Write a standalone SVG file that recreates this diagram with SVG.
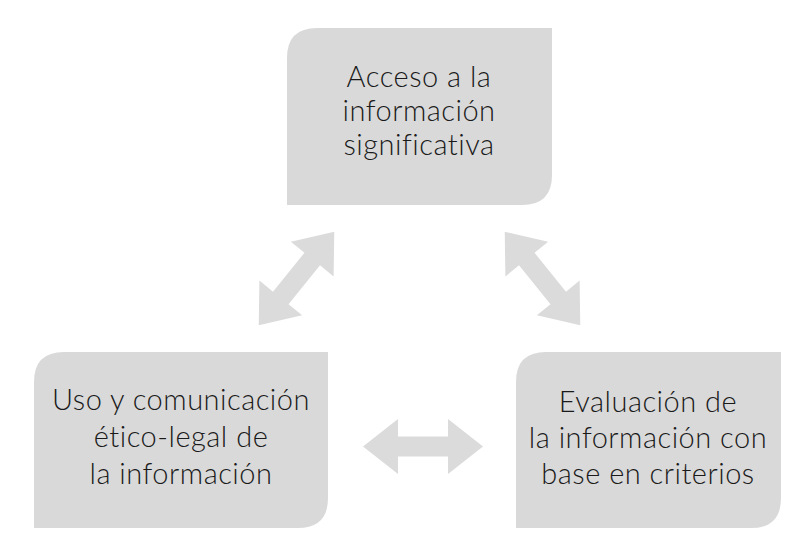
<svg xmlns="http://www.w3.org/2000/svg" width="800" height="557" viewBox="0 0 800 557">
<defs>
<style>
.box{fill:#d9d9d9}
.arrow{fill:#dbdbdb}
.t{font-family:Lato,"Liberation Sans",sans-serif;font-weight:300;font-size:29px;letter-spacing:0.5px;fill:#1a1a1a;text-anchor:middle}
</style>
<path id="dbl" d="M-60,0 L-25,-27.5 L-25,-10 L25,-10 L25,-27.5 L60,0 L25,27.5 L25,10 L-25,10 L-25,27.5 Z"/>
</defs>
<rect width="800" height="557" fill="#ffffff"/>
<g id="connectors">
<use href="#dbl" class="arrow" transform="translate(296.5,278.5) rotate(-51)"/>
<use href="#dbl" class="arrow" transform="translate(542.5,278.5) rotate(51)"/>
<use href="#dbl" class="arrow" transform="translate(423,446.5)"/>
</g>
<g id="node-acceso">
<path class="box" d="M317,28 H552 V175 Q552,205 522,205 H287 V58 Q287,28 317,28 Z"/>
<text class="t" x="419" y="87">Acceso a la</text>
<text class="t" x="419" y="121">información</text>
<text class="t" x="419" y="155">significativa</text>
</g>
<g id="node-uso">
<path class="box" d="M64,352 H328 V498 Q328,528 298,528 H34 V382 Q34,352 64,352 Z"/>
<text class="t" x="181" y="410">Uso y comunicación</text>
<text class="t" x="181" y="447">ético-legal de</text>
<text class="t" x="181" y="484">la información</text>
</g>
<g id="node-evaluacion">
<path class="box" d="M546,352 H781 V498 Q781,528 751,528 H516 V382 Q516,352 546,352 Z"/>
<text class="t" x="648" y="412">Evaluación de</text>
<text class="t" x="648" y="448">la información con</text>
<text class="t" x="648" y="484">base en criterios</text>
</g>
</svg>
